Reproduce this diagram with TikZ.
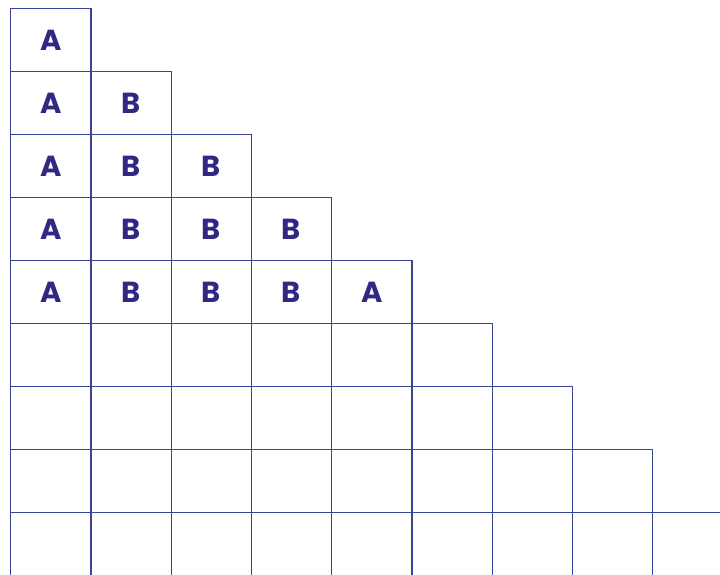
\documentclass[tikz,border=0pt]{standalone}
\usepackage{fontspec}
\newfontfamily\gridfont{Poppins}
\definecolor{gridline}{RGB}{58,68,150}
\definecolor{gridtext}{RGB}{48,40,130}

\begin{document}
\begin{tikzpicture}[
  x=1pt, y=-1pt,
  cell/.style={draw=gridline, line width=1.3pt, minimum width=80.25pt,
    minimum height=63pt, inner sep=0pt, anchor=north west},
  lett/.style={text=gridtext, font=\gridfont\bfseries\fontsize{29}{29}\selectfont}
]
\useasboundingbox (0,0) rectangle (720,574);
\clip (0,0) rectangle (720,574);
% staircase of cells, row r has r+1 cells
\foreach \r in {0,...,8}
  \foreach \c in {0,...,\r}
    \node[cell] (c\r\c) at ({10+80.25*\c},{8+63*\r}) {};
% letters in the first five rows
\foreach \r/\c/\t in {0/0/A,
    1/0/A, 1/1/B,
    2/0/A, 2/1/B, 2/2/B,
    3/0/A, 3/1/B, 3/2/B, 3/3/B,
    4/0/A, 4/1/B, 4/2/B, 4/3/B, 4/4/A}
  \node[lett] (l\r\c) at (c\r\c.center) {\t};
\end{tikzpicture}
\end{document}
